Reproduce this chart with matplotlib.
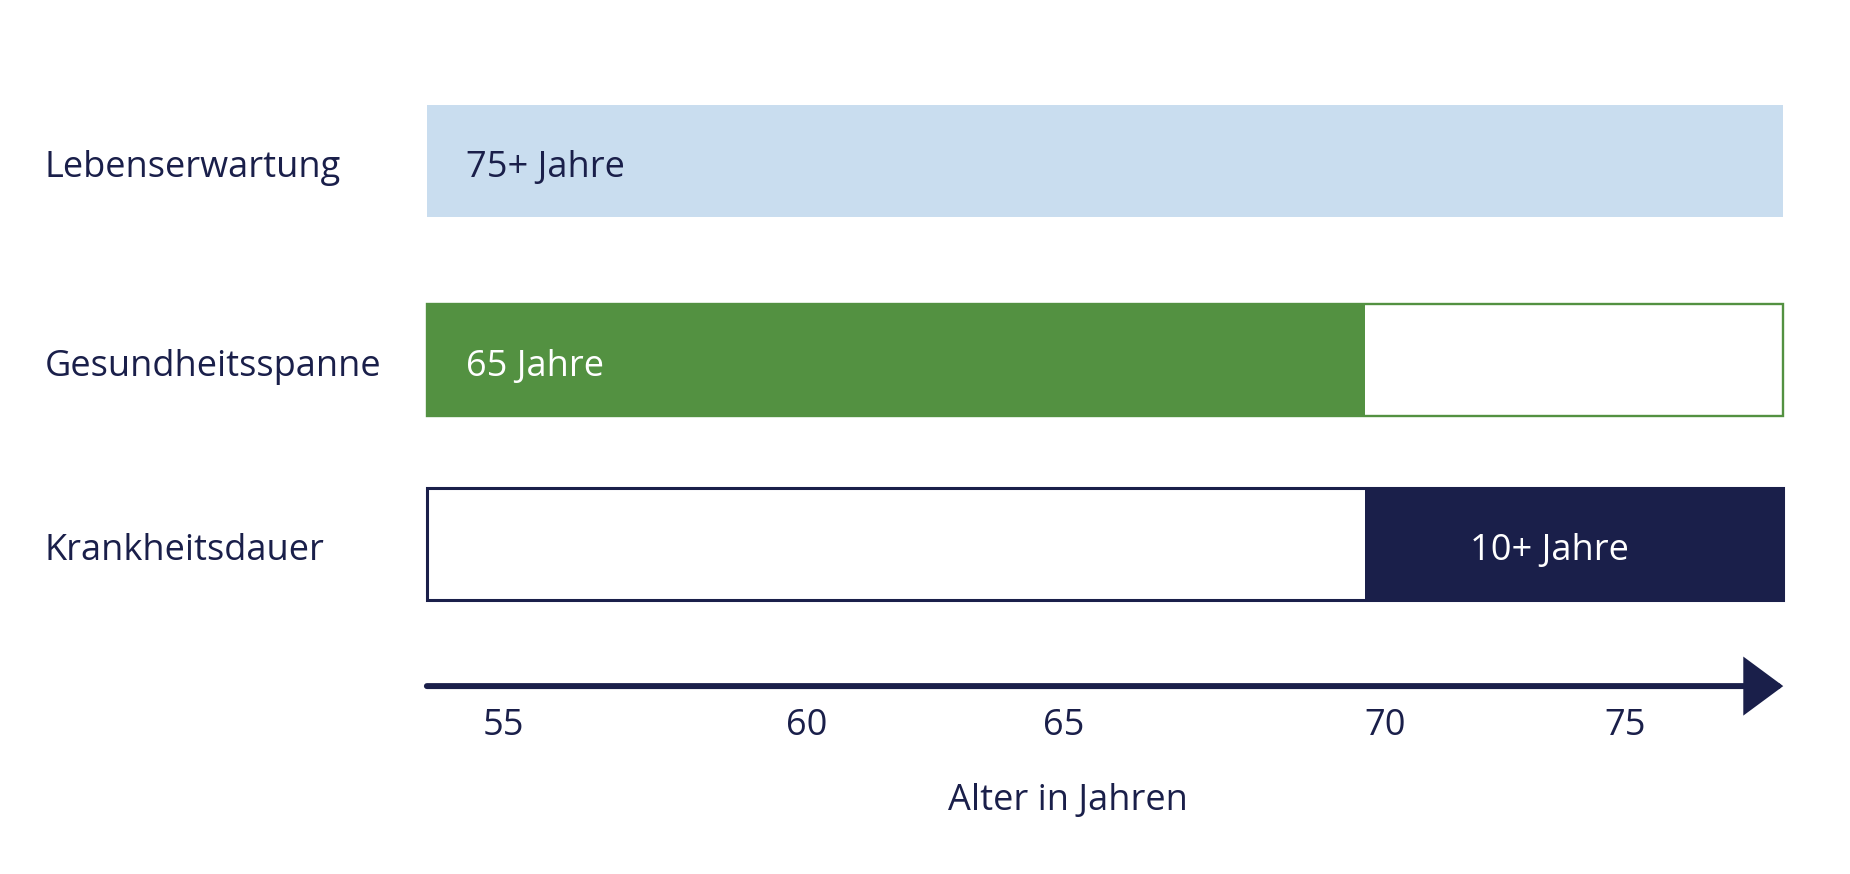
import numpy as np
import matplotlib
matplotlib.use("Agg")
from matplotlib import pyplot as plt
from matplotlib import transforms

plt.rcParams['font.family'] = ['Open Sans', 'DejaVu Sans']

# data
categories = ['Lebenserwartung', 'Gesundheitsspanne', 'Krankheitsdauer']
bar_texts = ['75+ Jahre', '65 Jahre', '10+ Jahre']
age_start = 53.64      # left end of every bar / arrow
age_end = 77.82        # right end of every bar / arrow tip
age_split = 70.37      # green ends, dark part begins
tick_pos = [55, 60.41, 65, 70.72, 75]
tick_labels = ['55', '60', '65', '70', '75']
xlabel = 'Alter in Jahren'

navy = '#1a1f4a'
green = '#539141'
lightblue = '#c9ddef'

fig = plt.figure(figsize=(18.5, 8.74), dpi=100)
ax = fig.add_axes([0, 0.215, 1, 0.785])
ax.set_xlim(46.03, 79.01)
ax.set_ylim(2.742, -0.841)
for s in ax.spines.values():
    s.set_visible(False)
ax.set_yticks([])

# row layout (middle row sits a bit lower in the original)
y = np.array([0.0, 1.04, 2.0])
h = 0.585
w = age_end - age_start
txt_dy = 0.085   # baseline offset below bar centre

# Lebenserwartung
ax.barh(y[0], w, left=age_start, height=h, color=lightblue, lw=0)
# Gesundheitsspanne
ax.barh(y[1], w, left=age_start, height=h, facecolor='white', edgecolor=green, lw=1.7)
ax.barh(y[1], age_split - age_start, left=age_start, height=h, color=green, lw=0)
# Krankheitsdauer
ax.barh(y[2], w, left=age_start, height=h, facecolor='white', edgecolor=navy, lw=2.2)
ax.barh(y[2], age_end - age_split, left=age_split, height=h, color=navy, lw=0)

fs = 26
ax.text(54.34, y[0] + txt_dy, bar_texts[0], color=navy, fontsize=fs, va='baseline', ha='left')
ax.text(54.34, y[1] + txt_dy, bar_texts[1], color='white', fontsize=fs, va='baseline', ha='left')
ax.text((age_split + age_end) / 2 - 0.45, y[2] + txt_dy, bar_texts[2], color='white',
        fontsize=fs, va='baseline', ha='center')

tr = transforms.blended_transform_factory(ax.transAxes, ax.transData)
for yi, c in zip(y, categories):
    ax.text(0.0243, yi + txt_dy, c, transform=tr, color=navy, fontsize=fs,
            va='baseline', ha='left')

# arrow axis
ax.annotate('', xy=(age_end, 2.742), xytext=(age_start, 2.742), annotation_clip=False,
            arrowprops=dict(arrowstyle='-|>,head_length=1.15,head_width=0.85', lw=4.3,
                            color=navy, mutation_scale=20, shrinkA=0, shrinkB=0,
                            capstyle='round', joinstyle='miter'))

ax.set_xticks(tick_pos, tick_labels)
ax.tick_params(axis='x', length=0, pad=16, labelsize=fs, labelcolor=navy)
ax.set_xlabel(xlabel, fontsize=fs, color=navy)
ax.xaxis.set_label_coords(0.577, -0.141)

fig.savefig('out.png', dpi=100, facecolor='white')
